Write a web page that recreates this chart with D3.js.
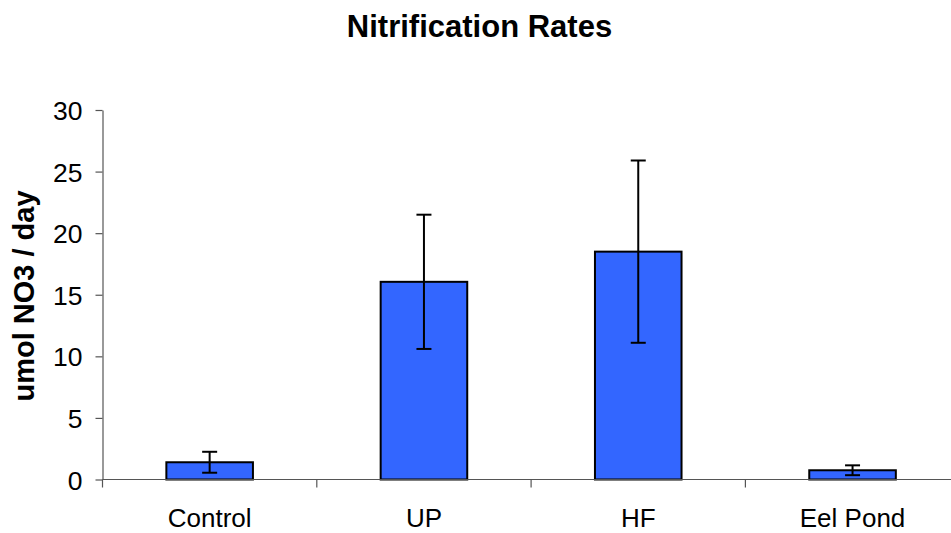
<!DOCTYPE html>
<html><head><meta charset="utf-8">
<script src="https://cdn.jsdelivr.net/npm/d3@7/dist/d3.min.js"></script>
<style>body{margin:0;background:#fff}svg{display:block}</style>
</head><body>
<svg id="c" width="951" height="533"></svg>
<script>
const categories = ["Control", "UP", "HF", "Eel Pond"];
const values = [1.4, 16.05, 18.5, 0.75];
const errors = [0.85, 5.45, 7.4, 0.4];
const yTicks = [0, 5, 10, 15, 20, 25, 30];
const title = "Nitrification Rates";
const yLabel = "umol NO3 / day";

const svg = d3.select("#c");
const font = "'Liberation Sans', Arial, sans-serif";
const left = 102.5, step = 214.3, y0 = 479.5, yTop = 110;
const x = d3.scaleBand().domain(categories).range([left, left + step * categories.length]).paddingInner(0.596).paddingOuter(0.298);
const y = d3.scaleLinear().domain([0, 30]).range([y0, yTop]);

// title
svg.append("text").attr("x", 479.5).attr("y", 37).attr("text-anchor", "middle")
  .attr("font-family", font).attr("font-weight", "bold").attr("font-size", 31).text(title);
// y label
svg.append("text").attr("transform", "translate(34,296) rotate(-90)").attr("text-anchor", "middle")
  .attr("font-family", font).attr("font-weight", "bold").attr("font-size", 29).text(yLabel);

// bars
svg.append("g").selectAll("rect").data(values).join("rect")
  .attr("x", (d, i) => x(categories[i])).attr("width", x.bandwidth())
  .attr("y", d => y(d)).attr("height", d => y(0) - y(d))
  .attr("fill", "#3366FF").attr("stroke", "#000").attr("stroke-width", 2);

// y axis
const ya = svg.append("g").attr("transform", `translate(${left},0)`)
  .call(d3.axisLeft(y).tickValues(yTicks).tickSize(7).tickSizeOuter(0).tickPadding(13));
ya.selectAll("path,line").attr("stroke", "#555").attr("stroke-width", 1.2);
ya.selectAll("text").attr("font-family", font).attr("font-size", 26.5).attr("fill", "#000").attr("dy", "0.36em");

// x axis
const xa = svg.append("g").attr("transform", `translate(0,${y0})`);
xa.append("line").attr("x1", left).attr("x2", left + step * categories.length).attr("stroke", "#555").attr("stroke-width", 1.2);
const bounds = d3.range(categories.length + 1).map(i => left + step * i);
xa.selectAll("line.t").data(bounds).join("line").attr("class", "t")
  .attr("x1", d => d).attr("x2", d => d).attr("y1", 0).attr("y2", 8).attr("stroke", "#555").attr("stroke-width", 1.2);
xa.selectAll("text").data(categories).join("text")
  .attr("x", d => x(d) + x.bandwidth() / 2).attr("y", 47).attr("text-anchor", "middle")
  .attr("font-family", font).attr("font-size", 26).text(d => d);

// error bars
const eb = svg.append("g").attr("stroke", "#000").attr("stroke-width", 2);
values.forEach((v, i) => {
  const cx = x(categories[i]) + x.bandwidth() / 2;
  eb.append("line").attr("x1", cx).attr("x2", cx).attr("y1", y(v + errors[i])).attr("y2", y(v - errors[i]));
  [v + errors[i], v - errors[i]].forEach(e => {
    eb.append("line").attr("x1", cx - 7.5).attr("x2", cx + 7.5).attr("y1", y(e)).attr("y2", y(e));
  });
});
</script>
</body></html>
